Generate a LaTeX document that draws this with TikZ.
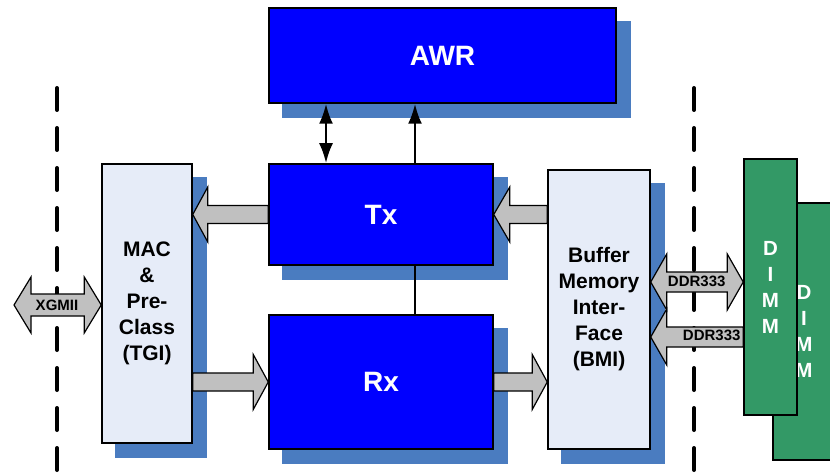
\documentclass[tikz,border=0pt]{standalone}
\usepackage{fontspec}
\setmainfont{Liberation Sans}
\usetikzlibrary{calc,arrows.meta}

\definecolor{coreblue}{HTML}{0000FF}
\definecolor{shadowblue}{HTML}{4A7CC0}
\definecolor{paleblock}{HTML}{E6ECF8}
\definecolor{dimmgreen}{HTML}{339966}
\definecolor{busgray}{HTML}{C0C0C0}

\pgfdeclarelayer{bg}
\pgfdeclarelayer{mid}
\pgfsetlayers{bg,mid,main}

% fat single-headed bus arrow: tail, tip, half shaft, half head, head length
\newcommand\busarrow[5]{%
  \draw[busstyle] let \p1=(#1), \p2=(#2), \n1={#5*ifthenelse(\x1>\x2,1,-1)} in
    (\x1,\y2+#3pt) -- (\x2+\n1,\y2+#3pt) -- (\x2+\n1,\y2+#4pt) -- (\x2,\y2)
    -- (\x2+\n1,\y2-#4pt) -- (\x2+\n1,\y2-#3pt) -- (\x1,\y2-#3pt) -- cycle;}
% fat double-headed bus arrow: left tip, right tip, half shaft, half head, head length
\newcommand\busdouble[5]{%
  \draw[busstyle] let \p1=(#1), \p2=(#2) in
    (\x1,\y1) -- (\x1+#5pt,\y1+#4pt) -- (\x1+#5pt,\y1+#3pt) -- (\x2-#5pt,\y1+#3pt)
    -- (\x2-#5pt,\y1+#4pt) -- (\x2,\y1) -- (\x2-#5pt,\y1-#4pt) -- (\x2-#5pt,\y1-#3pt)
    -- (\x1+#5pt,\y1-#3pt) -- (\x1+#5pt,\y1-#4pt) -- cycle;}
% drop shadow behind a block
\newcommand\blockshadow[1]{%
  \fill[shadowblue] ($(#1.south west)+(14,14)$) rectangle ($(#1.north east)+(14,14)$);}

\tikzset{
  block/.style={draw=black, line width=1.5pt, inner sep=0pt},
  coreblock/.style={block, fill=coreblue, text=white,
    font=\fontsize{28}{32}\selectfont\bfseries},
  paleblk/.style={block, fill=paleblock, text=black, align=center,
    font=\fontsize{21}{26}\selectfont\bfseries},
  dimmblk/.style={block, fill=dimmgreen, text=white, align=center,
    font=\fontsize{20.5}{26}\selectfont\bfseries},
  busstyle/.style={draw=black, fill=busgray, line width=1.2pt, line join=miter},
  buslabel/.style={font=\fontsize{15}{16}\selectfont\bfseries, inner sep=0pt},
  boundary/.style={line width=4pt, line cap=round, dash pattern=on 22pt off 18pt},
  ctrl/.style={line width=2.5pt},
  ctrltip/.style={-{Latex[length=20pt,width=14pt]}},
  ctrltips/.style={{Latex[length=20pt,width=14pt]}-{Latex[length=20pt,width=14pt]}},
}

\begin{document}
\begin{tikzpicture}[x=1pt,y=-1pt]
\useasboundingbox (0,0) rectangle (830,476);

% blocks
\node[coreblock, minimum width=347pt, minimum height=95pt] (awr) at (442.5,55.5) {AWR};
\node[coreblock, minimum width=224pt, minimum height=101pt] (tx) at (381,214.5) {Tx};
\node[coreblock, minimum width=224pt, minimum height=134pt] (rx) at (381,382) {Rx};
\node[paleblk, minimum width=90pt, minimum height=279pt] (mac) at (147,303.5)
  {MAC\\\&\\Pre-\\Class\\(TGI)};
\node[paleblk, minimum width=102pt, minimum height=279pt] (bmi) at (599,309.5)
  {Buffer\\Memory\\Inter-\\Face\\(BMI)};
\node[dimmblk, minimum width=62pt, minimum height=257pt] (dimmb) at (804,331.5)
  {D\\I\\M\\M};
\node[dimmblk, minimum width=53pt, minimum height=256pt] (dimma) at (770.5,287)
  {D\\I\\M\\M};

% reference points for free ends and connector lanes
\coordinate (xgl) at (14,305);
\coordinate (ddrtop) at (0,282);
\coordinate (ddrbot) at (0,337);
\coordinate (laneA) at (326,0);
\coordinate (laneB) at (415,0);
\coordinate (bndtopL) at (57,88);
\coordinate (bndbotL) at (57,490);
\coordinate (bndtopR) at (694,88);
\coordinate (bndbotR) at (694,490);

\begin{pgfonlayer}{bg}
  \blockshadow{awr}
  \blockshadow{tx}
  \blockshadow{rx}
  \blockshadow{mac}
  \blockshadow{bmi}
  \draw[boundary] (bndtopL) -- (bndbotL);
  \draw[boundary] (bndtopR) -- (bndbotR);
\end{pgfonlayer}

\begin{pgfonlayer}{mid}
  % data buses
  \busarrow{tx.west}{mac.east |- tx.west}{9}{27.5}{15}
  \busarrow{mac.east |- rx.west}{rx.west}{9}{27.5}{15}
  \busarrow{bmi.west |- tx.east}{tx.east}{9}{27.5}{16}
  \busarrow{rx.east}{bmi.west |- rx.east}{9}{27.5}{15}
  \busdouble{xgl}{mac.west |- xgl}{11}{28}{17}
  \busdouble{bmi.east |- ddrtop}{dimma.west |- ddrtop}{10}{28}{16}
  \busarrow{dimma.west |- ddrbot}{bmi.east |- ddrbot}{10}{28}{16}
  \node[buslabel] (xglbl) at ($(xgl)+(43,0)$) {XGMII};
  \node[buslabel] (ddrlbla) at ($(bmi.east |- ddrtop)+(46,-1)$) {DDR333};
  \node[buslabel] (ddrlblb) at ($(bmi.east |- ddrbot)+(61,-1.5)$) {DDR333};
  % control connections
  \draw[ctrl, ctrltips] (tx.north -| laneA) -- (awr.south -| laneA);
  \draw[ctrl, ctrltip] (tx.north -| laneB) -- (awr.south -| laneB);
  \draw[ctrl] (tx.south -| laneB) -- (rx.north -| laneB);
\end{pgfonlayer}
\end{tikzpicture}
\end{document}
